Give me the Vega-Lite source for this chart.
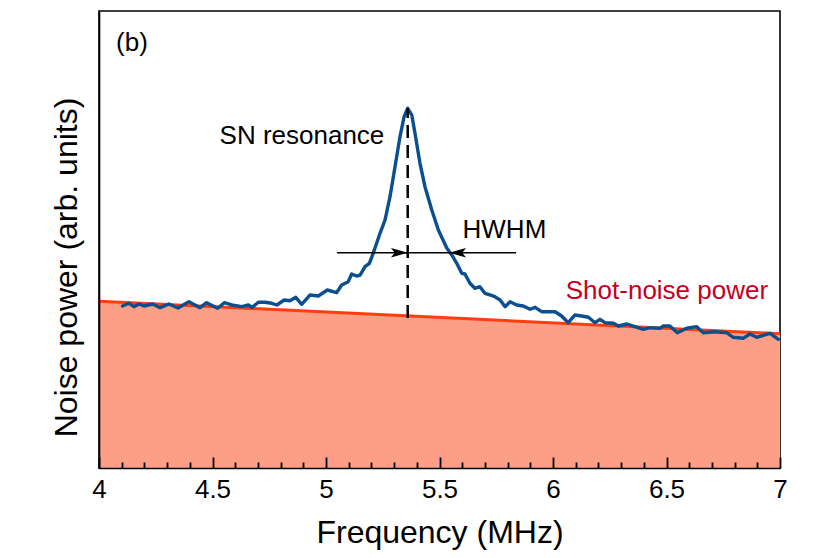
{
  "$schema": "https://vega.github.io/schema/vega-lite/v6.json",
  "width": 681,
  "height": 457,
  "autosize": {"type": "none"},
  "padding": {"left": 99, "top": 11, "right": 50, "bottom": 90},
  "background": "white",
  "config": {
    "view": {"stroke": "black", "strokeWidth": 1.6},
    "font": "Liberation Sans"
  },
  "datasets": {
    "shot": [{"f": 4, "p": 36.5}, {"f": 7, "p": 29.4}],
    "noise": [
      {"f": 4.104, "p": 35.45}, {"f": 4.132, "p": 36.04}, {"f": 4.154, "p": 35.30}, {"f": 4.176, "p": 35.89},
      {"f": 4.198, "p": 35.45}, {"f": 4.237, "p": 35.89}, {"f": 4.269, "p": 35.08}, {"f": 4.308, "p": 35.89},
      {"f": 4.348, "p": 35.01}, {"f": 4.396, "p": 36.39}, {"f": 4.445, "p": 35.08}, {"f": 4.474, "p": 36.17},
      {"f": 4.523, "p": 34.95}, {"f": 4.552, "p": 36.17}, {"f": 4.585, "p": 35.67}, {"f": 4.629, "p": 35.30},
      {"f": 4.658, "p": 35.67}, {"f": 4.675, "p": 35.16}, {"f": 4.702, "p": 36.26}, {"f": 4.731, "p": 36.26},
      {"f": 4.761, "p": 36.04}, {"f": 4.783, "p": 35.67}, {"f": 4.816, "p": 36.76}, {"f": 4.841, "p": 36.61},
      {"f": 4.867, "p": 37.35}, {"f": 4.893, "p": 35.82}, {"f": 4.930, "p": 37.86}, {"f": 4.966, "p": 37.64},
      {"f": 5.006, "p": 38.95}, {"f": 5.047, "p": 38.36}, {"f": 5.069, "p": 40.04}, {"f": 5.098, "p": 40.77},
      {"f": 5.113, "p": 42.45}, {"f": 5.135, "p": 42.01}, {"f": 5.150, "p": 42.23}, {"f": 5.172, "p": 44.05},
      {"f": 5.191, "p": 44.79}, {"f": 5.208, "p": 46.98}, {"f": 5.223, "p": 49.17}, {"f": 5.238, "p": 51.36},
      {"f": 5.260, "p": 54.27}, {"f": 5.282, "p": 59.37}, {"f": 5.304, "p": 65.93}, {"f": 5.326, "p": 72.49},
      {"f": 5.344, "p": 76.87}, {"f": 5.360, "p": 78.71}, {"f": 5.378, "p": 77.24}, {"f": 5.392, "p": 73.24},
      {"f": 5.414, "p": 66.67}, {"f": 5.436, "p": 61.55}, {"f": 5.466, "p": 56.46}, {"f": 5.495, "p": 52.08},
      {"f": 5.532, "p": 48.14}, {"f": 5.554, "p": 46.61}, {"f": 5.576, "p": 44.79}, {"f": 5.598, "p": 42.60},
      {"f": 5.612, "p": 42.45}, {"f": 5.634, "p": 40.42}, {"f": 5.656, "p": 39.32}, {"f": 5.678, "p": 39.67},
      {"f": 5.700, "p": 38.23}, {"f": 5.722, "p": 37.86}, {"f": 5.744, "p": 37.48}, {"f": 5.767, "p": 36.76},
      {"f": 5.789, "p": 35.30}, {"f": 5.811, "p": 36.39}, {"f": 5.840, "p": 35.67}, {"f": 5.869, "p": 35.45},
      {"f": 5.899, "p": 34.73}, {"f": 5.921, "p": 35.16}, {"f": 5.950, "p": 34.20}, {"f": 5.979, "p": 34.20},
      {"f": 6.009, "p": 34.20}, {"f": 6.038, "p": 33.26}, {"f": 6.067, "p": 31.79}, {"f": 6.097, "p": 33.48},
      {"f": 6.126, "p": 33.26}, {"f": 6.156, "p": 32.98}, {"f": 6.185, "p": 31.79}, {"f": 6.207, "p": 32.54},
      {"f": 6.229, "p": 31.79}, {"f": 6.266, "p": 31.66}, {"f": 6.288, "p": 31.07}, {"f": 6.325, "p": 31.51},
      {"f": 6.361, "p": 30.92}, {"f": 6.398, "p": 30.35}, {"f": 6.427, "p": 30.70}, {"f": 6.471, "p": 30.57},
      {"f": 6.486, "p": 31.07}, {"f": 6.515, "p": 31.07}, {"f": 6.548, "p": 29.61}, {"f": 6.589, "p": 30.57},
      {"f": 6.633, "p": 30.92}, {"f": 6.662, "p": 29.61}, {"f": 6.714, "p": 29.82}, {"f": 6.765, "p": 29.61},
      {"f": 6.794, "p": 28.60}, {"f": 6.838, "p": 28.38}, {"f": 6.867, "p": 29.32}, {"f": 6.897, "p": 28.60},
      {"f": 6.956, "p": 29.47}, {"f": 6.993, "p": 28.16}
    ],
    "peak": [{"f": 5.36, "lo": 32.8, "hi": 78.7}],
    "hwhm": [{"f1": 5.048, "f2": 5.837, "p": 47.1}],
    "tipR": [{"f": 5.361, "p": 47.1}],
    "tipL": [{"f": 5.542, "p": 47.1}],
    "labels": [
      {"f": 4.145, "p": 93.1, "text": "(b)"},
      {"f": 4.894, "p": 72.6, "text": "SN resonance"},
      {"f": 5.786, "p": 52.1, "text": "HWHM"}
    ],
    "redlabel": [{"f": 6.502, "p": 38.7, "text": "Shot-noise power"}]
  },
  "encoding": {
    "x": {
      "field": "f", "type": "quantitative",
      "scale": {"domain": [4, 7], "nice": false, "zero": false},
      "axis": {
        "title": "Frequency (MHz)",
        "zindex": 1,
        "values": [4, 4.1, 4.2, 4.3, 4.4, 4.5, 4.6, 4.7, 4.8, 4.9, 5, 5.1, 5.2, 5.3, 5.4, 5.5, 5.6, 5.7, 5.8, 5.9, 6, 6.1, 6.2, 6.3, 6.4, 6.5, 6.6, 6.7, 6.8, 6.9, 7],
        "format": "~g",
        "labelExpr": "abs(datum.value*2-round(datum.value*2))<0.01 ? datum.label : ''",
        "tickSize": {"condition": {"test": "abs(datum.value*2-round(datum.value*2))<0.01", "value": -11}, "value": -6},
        "tickWidth": 1.8,
        "tickColor": "black",
        "domainColor": "black",
        "domainWidth": 1.6,
        "grid": false,
        "labelFont": "Liberation Sans",
        "labelFontSize": 26,
        "labelColor": "black",
        "labelFlush": false,
        "labelOverlap": false,
        "labelBaseline": "alphabetic",
        "labelPadding": 40,
        "titleFont": "Liberation Sans",
        "titleFontSize": 32,
        "titleFontWeight": "normal",
        "titleColor": "black",
        "titleBaseline": "alphabetic",
        "titleY": 74
      }
    },
    "y": {
      "field": "p", "type": "quantitative",
      "scale": {"domain": [0, 100], "nice": false},
      "axis": {
        "title": "Noise power (arb. units)",
        "zindex": 1,
        "labels": false,
        "ticks": false,
        "grid": false,
        "domainColor": "black",
        "domainWidth": 1.6,
        "titleFont": "Liberation Sans",
        "titleFontSize": 32,
        "titleFontWeight": "normal",
        "titleColor": "black",
        "titleBaseline": "alphabetic",
        "titleAngle": -90,
        "titleAlign": "center",
        "titleX": -23,
        "titleY": 256
      }
    }
  },
  "layer": [
    {"data": {"name": "shot"}, "mark": {"type": "area", "color": "#fd9f86", "clip": true}},
    {"data": {"name": "shot"}, "mark": {"type": "line", "color": "#ff3d0f", "strokeWidth": 3, "clip": true}},
    {"data": {"name": "noise"}, "mark": {"type": "line", "color": "#0b4f8f", "strokeWidth": 3.4, "strokeJoin": "round", "strokeCap": "round", "clip": true}},
    {"data": {"name": "peak"}, "mark": {"type": "rule", "color": "black", "strokeWidth": 2.5, "strokeDash": [13, 7]},
     "encoding": {"y": {"field": "lo", "type": "quantitative"}, "y2": {"field": "hi"}}},
    {"data": {"name": "hwhm"}, "mark": {"type": "rule", "color": "black", "strokeWidth": 1.6},
     "encoding": {"x": {"field": "f1", "type": "quantitative"}, "x2": {"field": "f2"}}},
    {"data": {"name": "tipR"}, "mark": {"type": "point", "filled": true, "color": "black", "opacity": 1, "size": 289, "shape": "M0,0 L-2,-0.55 L-1.55,0 L-2,0.55 Z"}},
    {"data": {"name": "tipL"}, "mark": {"type": "point", "filled": true, "color": "black", "opacity": 1, "size": 289, "shape": "M0,0 L2,-0.55 L1.55,0 L2,0.55 Z"}},
    {"data": {"name": "labels"}, "mark": {"type": "text", "font": "Liberation Sans", "fontSize": 26, "color": "black", "align": "center", "baseline": "middle"},
     "encoding": {"text": {"field": "text"}}},
    {"data": {"name": "redlabel"}, "mark": {"type": "text", "font": "Liberation Sans", "fontSize": 26, "color": "#c4001d", "align": "center", "baseline": "middle"},
     "encoding": {"text": {"field": "text"}}}
  ]
}
